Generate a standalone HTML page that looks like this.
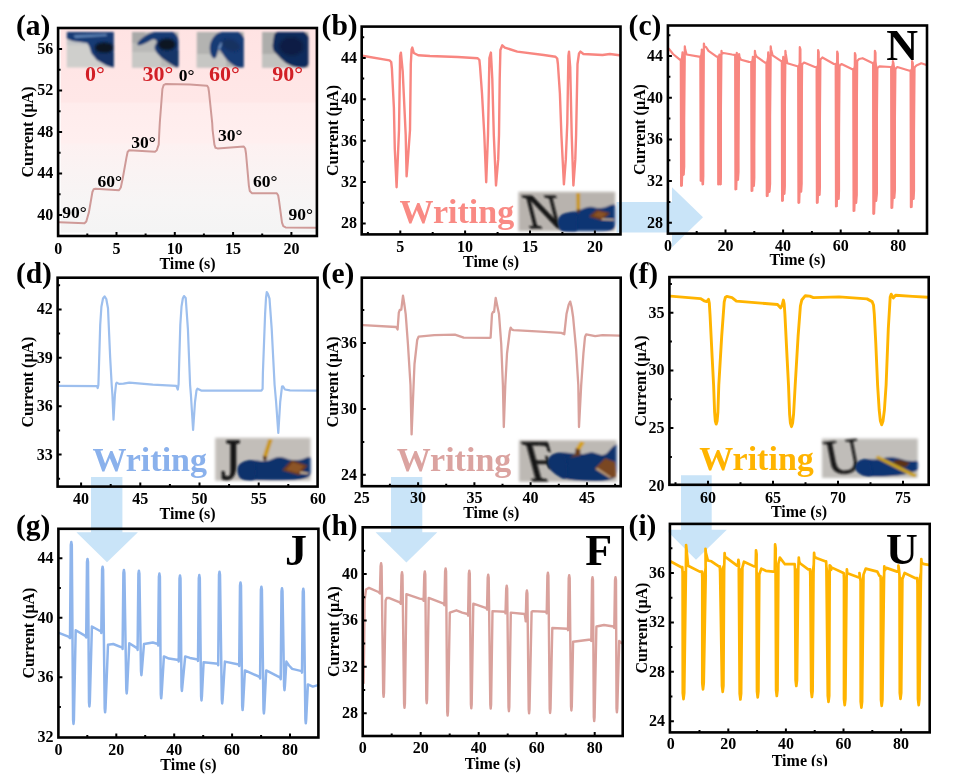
<!DOCTYPE html>
<html><head><meta charset="utf-8"><title>Figure</title>
<style>
html,body{margin:0;padding:0;background:#fff;}
body{width:955px;height:783px;overflow:hidden;font-family:"Liberation Serif",serif;}
svg{display:block;will-change:transform;filter:blur(0.4px);}
</style></head><body>
<svg width="955" height="783" viewBox="0 0 955 783">
<defs>
<linearGradient id="pinkbg" x1="0" y1="0" x2="0" y2="1">
<stop offset="0" stop-color="#ffe3e3"/><stop offset="0.36" stop-color="#ffe7e7"/><stop offset="0.37" stop-color="#ffecec"/>
<stop offset="0.56" stop-color="#ffefef"/><stop offset="0.57" stop-color="#fdf1f1"/><stop offset="0.70" stop-color="#faf3f3"/><stop offset="0.85" stop-color="#f7f5f5"/><stop offset="1" stop-color="#f4f4f4"/>
</linearGradient>
<filter id="soft" x="-10%" y="-10%" width="120%" height="120%"><feGaussianBlur stdDeviation="0.9"/></filter>
<filter id="soft2" x="-10%" y="-10%" width="120%" height="120%"><feGaussianBlur stdDeviation="0.85"/></filter>
<filter id="edge" x="-10%" y="-10%" width="120%" height="120%"><feGaussianBlur stdDeviation="1.6"/></filter>
</defs>
<rect width="955" height="783" fill="#fff"/>
<rect x="60.7" y="28.0" width="256.2" height="204.6" fill="url(#pinkbg)"/>
<g fill="#c9e4f8">
<path d="M616.5 202 H672 V187.3 L703 217.2 L672 247.3 V232.4 H616.5 Z"/>
<path d="M91 477 H122.4 V532.3 H137.9 L107 562.3 L76.4 532.3 H91 Z"/>
<path d="M391 477 H422.3 V532.3 H437.3 L406.4 562.6 L375.6 532.3 H391 Z"/>
<path d="M681 475.2 H711.7 V529.7 H726.8 L696 559.8 L668.4 532.3 V529.7 H681 Z"/>
</g>
<defs><clipPath id="cp1"><rect x="66.8" y="32.1" width="47.0" height="35.4"/></clipPath><mask id="mcp1" maskUnits="userSpaceOnUse" x="60.8" y="26.1" width="59.0" height="47.4"><rect x="67.6" y="32.9" width="45.4" height="33.8" fill="#fff" filter="url(#edge)"/></mask><clipPath id="cp2"><rect x="132.1" y="32.1" width="46.4" height="35.4"/></clipPath><mask id="mcp2" maskUnits="userSpaceOnUse" x="126.1" y="26.1" width="58.4" height="47.4"><rect x="132.9" y="32.9" width="44.8" height="33.8" fill="#fff" filter="url(#edge)"/></mask><clipPath id="cp3"><rect x="196.8" y="32.1" width="47.0" height="35.4"/></clipPath><mask id="mcp3" maskUnits="userSpaceOnUse" x="190.8" y="26.1" width="59.0" height="47.4"><rect x="197.6" y="32.9" width="45.4" height="33.8" fill="#fff" filter="url(#edge)"/></mask><clipPath id="cp4"><rect x="262.1" y="32.1" width="46.4" height="35.4"/></clipPath><mask id="mcp4" maskUnits="userSpaceOnUse" x="256.1" y="26.1" width="58.4" height="47.4"><rect x="262.9" y="32.9" width="44.8" height="33.8" fill="#fff" filter="url(#edge)"/></mask><clipPath id="cpb"><rect x="517.6" y="191.0" width="98.4" height="41.0"/></clipPath><mask id="mcpb" maskUnits="userSpaceOnUse" x="511.6" y="185.0" width="110.4" height="53.0"><rect x="518.4" y="191.8" width="96.8" height="39.4" fill="#fff" filter="url(#edge)"/></mask><clipPath id="cpd"><rect x="214.4" y="437.0" width="97.0" height="44.6"/></clipPath><mask id="mcpd" maskUnits="userSpaceOnUse" x="208.4" y="431.0" width="109.0" height="56.6"><rect x="215.2" y="437.8" width="95.4" height="43.0" fill="#fff" filter="url(#edge)"/></mask><clipPath id="cpe"><rect x="518.2" y="439.4" width="99.2" height="43.2"/></clipPath><mask id="mcpe" maskUnits="userSpaceOnUse" x="512.2" y="433.4" width="111.2" height="55.2"><rect x="519.0" y="440.2" width="97.6" height="41.6" fill="#fff" filter="url(#edge)"/></mask><clipPath id="cpf"><rect x="821.2" y="437.8" width="97.4" height="41.0"/></clipPath><mask id="mcpf" maskUnits="userSpaceOnUse" x="815.2" y="431.8" width="109.4" height="53.0"><rect x="822.0" y="438.6" width="95.8" height="39.4" fill="#fff" filter="url(#edge)"/></mask></defs>
<g filter="url(#soft2)"><g clip-path="url(#cp1)">
<rect x="66" y="31" width="49" height="38" fill="#cfcfcc"/>
<rect x="66" y="31" width="49" height="14" fill="#c2c4c6"/>
<path d="M65.4 31.4 L114.5 31.4 L114.5 68.2 L106.3 65.5 L96.8 60.0 L91.3 53.2 L89.3 46.4 L87.2 43.0 L72.3 41.0 L65.4 38.0 Z" fill="#143a75"/>
<path d="M73.6 35.3 L106.3 33.9 L107.0 36.1 L75.0 38.0 Z" fill="#6f95c4" opacity="0.8"/>
<ellipse filter="url(#soft)" cx="104.2" cy="47.8" rx="9.5" ry="5.6" fill="#0b1424"/>
<path d="M94.0 51.9 L113.8 53.2 L113.8 66.8 L104.9 64.1 L96.8 58.7 Z" fill="#12305f" opacity="0.7"/>
</g></g>
<g filter="url(#soft2)"><g clip-path="url(#cp2)">
<rect x="131" y="31" width="49" height="38" fill="#b9b9b7"/>
<rect x="131" y="52" width="30" height="17" fill="#c8c8c5"/>
<rect x="131" y="31" width="14" height="12" fill="#a9a9a8"/>
<path d="M179.8 49.8 Q179.8 30.1 167.5 30.8 Q155.3 31.4 150.5 32.9 Q145.8 34.4 141.0 38.9 Q136.2 43.4 137.6 44.8 Q139.0 46.1 143.0 44.2 Q147.1 42.3 150.5 40.4 Q153.9 38.5 155.8 40.1 Q157.7 41.7 155.8 44.0 Q153.9 46.4 154.9 49.5 Q156.0 52.5 159.7 55.9 Q163.5 59.4 168.2 62.4 Q173.0 65.5 176.4 67.5 Q179.8 69.6 179.8 49.8 Z" fill="#143a75"/>
<ellipse filter="url(#soft)" cx="166.9" cy="44.4" rx="9" ry="6" fill="#0b1424"/>
<path d="M158.0 50.5 L179.1 50.5 L179.1 67.5 L168.9 62.8 L160.7 57.3 Z" fill="#12305f" opacity="0.6"/>
</g></g>
<g filter="url(#soft2)"><g clip-path="url(#cp3)">
<rect x="196" y="31" width="49" height="38" fill="#b3b3b1"/>
<rect x="196" y="54" width="30" height="15" fill="#c6c6c3"/>
<path d="M245.8 49.5 Q245.8 30.1 232.5 30.8 Q219.3 31.4 215.9 34.5 Q212.5 37.6 210.9 41.7 Q209.3 45.7 209.9 50.5 Q210.4 55.3 212.3 57.3 Q214.2 59.4 215.6 57.8 Q217.0 56.2 217.4 52.7 Q217.9 49.1 219.3 49.8 Q220.6 50.5 222.3 53.6 Q224.0 56.6 227.1 60.0 Q230.2 63.4 234.2 65.8 Q238.3 68.2 242.1 68.5 Q245.8 68.9 245.8 49.5 Z" fill="#143a75"/>
<path d="M217.9 48.5 L220.6 42.3 L222.7 43.0 L219.7 49.8 Z" fill="#7fa0cc" opacity="0.85"/>
<ellipse filter="url(#soft)" cx="230.8" cy="45.1" rx="9.5" ry="5.5" fill="#12305f" opacity="0.9" transform="rotate(20 230.8 45.1)"/>
</g></g>
<g filter="url(#soft2)"><g clip-path="url(#cp4)">
<rect x="261" y="31" width="49" height="38" fill="#adadab"/>
<rect x="261" y="54" width="30" height="15" fill="#c2c2bf"/>
<path d="M311.2 48.8 Q311.2 28.7 293.1 29.4 Q275.1 30.1 274.2 34.8 Q273.3 39.6 272.7 44.5 Q272.1 49.4 274.6 52.1 Q277.1 54.9 281.2 58.9 Q285.3 63.0 289.7 65.1 Q294.1 67.1 302.6 68.0 Q311.2 68.9 311.2 48.8 Z" fill="#102c5b"/>
<ellipse filter="url(#soft)" cx="291.4" cy="46.4" rx="12" ry="9.5" fill="#0a1d42" opacity="0.85"/>
</g></g>
<g mask="url(#mcpb)"><g filter="url(#soft2)">
<rect x="516" y="189" width="102" height="45" fill="#b8b3ae"/>
<path d="M557.9 223.1 Q557.6 220.1 559.7 217.1 Q561.8 214.1 566.0 213.3 Q570.2 212.4 573.8 211.8 Q577.4 211.2 581.1 209.4 Q584.7 207.6 588.3 207.0 Q591.9 206.4 594.6 207.4 Q597.3 208.3 601.2 208.0 Q605.1 207.6 607.8 206.2 Q610.6 204.7 614.5 204.3 Q618.4 203.9 618.4 219.2 Q618.4 234.6 590.7 234.3 Q563.0 234.0 560.6 230.1 Q558.2 226.1 557.9 223.1 Z" fill="#0f3573"/>
<path d="M576.2 192.7 L580.1 192.7 L580.1 209.9 L576.5 209.9 Z" fill="#c9981c"/>
<path d="M576.6 209.5 L580.1 209.5 L579.2 212.7 L577.4 212.7 Z" fill="#5a3418"/>
<path d="M588.9 216.5 L596.9 209.8 L610.2 213.1 L601.8 220.4 Z" fill="#6b3b1c"/>
<path d="M593.1 215.6 L598.5 211.2 L606.9 213.5 L601.3 218.0 Z" fill="#8a5226"/>
<path d="M601.8 218.4 L613.6 218.9 L613.8 220.4 L601.8 220.1 Z" fill="#d8bc94"/>
</g></g>
<text transform="translate(528.8 228.0) skewX(14)" font-family="Liberation Serif, serif" font-size="50" fill="#141414" stroke="#141414" stroke-width="0.9" filter="url(#soft2)">N</text>
<g mask="url(#mcpb)"><g filter="url(#soft2)">
<path d="M557.9 223.1 Q557.6 220.1 559.7 217.2 Q561.8 214.3 566.0 213.5 Q570.2 212.7 572.9 212.3 Q575.6 211.9 576.5 216.0 Q577.4 220.1 577.4 227.4 Q577.4 234.6 570.2 234.3 Q563.0 234.0 560.6 230.1 Q558.2 226.1 557.9 223.1 Z" fill="#0f3573"/>
</g></g>
<g mask="url(#mcpd)"><g filter="url(#soft2)">
<rect x="212" y="435" width="102" height="49" fill="#c2beb9"/>
<path d="M237.9 471.5 Q237.3 466.7 240.4 464.0 Q243.5 461.3 248.4 460.6 Q253.2 459.9 257.4 460.6 Q261.6 461.3 265.2 461.1 Q268.8 460.8 272.4 458.9 Q276.1 457.0 279.7 457.0 Q283.3 457.0 286.3 458.5 Q289.3 460.1 295.3 460.1 Q301.3 460.1 304.3 458.5 Q307.4 457.0 311.0 456.7 Q314.6 456.5 314.6 468.8 Q314.6 481.2 279.7 481.2 Q244.7 481.2 241.6 478.8 Q238.5 476.4 237.9 471.5 Z" fill="#0e326c"/>
<path d="M268.5 438.7 L272.7 439.6 L267.1 457.2 L262.9 455.9 Z" fill="#c9981c"/>
<path d="M262.9 455.7 L267.3 457.0 L265.8 461.1 L263.0 460.1 Z" fill="#5a3418"/>
<path d="M282.1 470.3 L291.9 460.1 L307.6 465.6 L299.2 475.3 Z" fill="#6b3b1c"/>
<path d="M285.9 469.7 L292.9 462.3 L304.0 466.1 L297.7 472.9 Z" fill="#8d5428"/>
<path d="M300.1 471.5 L308.6 472.8 L308.3 474.3 L299.9 473.4 Z" fill="#d8bc94"/>
</g></g>
<text x="221.2" y="478.6" font-family="Liberation Serif, serif" font-size="57" fill="#141414" stroke="#141414" stroke-width="1.5" filter="url(#soft2)" textLength="19" lengthAdjust="spacingAndGlyphs">J</text>
<g mask="url(#mcpd)"><g filter="url(#soft2)">
<path d="M237.9 471.5 Q237.3 466.7 240.4 464.1 Q243.5 461.6 248.4 460.8 Q253.2 460.1 254.4 463.1 Q255.6 466.1 255.6 473.7 Q255.6 481.2 250.2 481.2 Q244.7 481.2 241.6 478.8 Q238.5 476.4 237.9 471.5 Z" fill="#0e326c"/>
</g></g>
<g mask="url(#mcpe)"><g filter="url(#soft2)">
<rect x="516" y="437" width="104" height="48" fill="#bdb9b4"/>
<path d="M547.7 463.7 Q547.1 460.7 549.6 457.4 Q552.1 454.1 557.0 453.1 Q561.8 452.2 567.2 452.8 Q572.6 453.5 577.4 454.1 Q582.3 454.8 587.1 453.2 Q591.9 451.7 594.9 452.9 Q597.9 454.1 601.5 454.9 Q605.1 455.8 608.1 451.9 Q611.2 448.1 613.6 446.1 Q616.0 444.2 618.4 443.7 Q620.8 443.2 620.8 463.1 Q620.8 483.0 594.3 481.8 Q567.8 480.6 561.8 477.7 Q555.8 474.8 552.0 470.8 Q548.3 466.7 547.7 463.7 Z" fill="#0e326c"/>
<path d="M580.4 441.1 L584.9 442.5 L580.1 450.0 L575.8 448.5 Z" fill="#d4a21e"/>
<path d="M575.6 448.3 L580.4 449.7 L580.4 455.5 L570.2 457.5 L575.0 454.1 Z" fill="#6a3d1c"/>
<path d="M594.9 468.5 L605.1 458.2 L615.0 462.0 L617.8 477.2 L610.0 477.9 Z" fill="#7a4622"/>
<path d="M595.7 469.3 L597.2 467.8 L611.4 477.2 L610.0 478.2 Z" fill="#d8bc94" opacity="0.8"/>
</g></g>
<text transform="translate(530.5 481.0) skewX(15) scale(1 1.1)" font-family="Liberation Serif, serif" font-size="53" fill="#141414" stroke="#141414" stroke-width="0.9" filter="url(#soft2)">F</text>
<g mask="url(#mcpe)"><g filter="url(#soft2)">
<path d="M547.7 463.7 Q547.1 460.7 549.6 457.5 Q552.1 454.3 557.0 453.4 Q561.8 452.4 564.2 455.7 Q566.6 458.9 567.2 469.7 Q567.8 480.6 561.8 477.7 Q555.8 474.8 552.0 470.8 Q548.3 466.7 547.7 463.7 Z" fill="#0e326c"/>
</g></g>
<g mask="url(#mcpf)"><g filter="url(#soft2)">
<rect x="819" y="435" width="102" height="46" fill="#c0bdb9"/>
<path d="M855.4 467.6 Q855.1 465.1 857.4 462.6 Q859.8 460.0 863.5 459.4 Q867.3 458.7 872.3 459.4 Q877.3 460.0 882.4 458.5 Q887.4 456.9 892.4 457.2 Q897.4 457.4 902.5 459.4 Q907.5 461.3 914.4 460.9 Q921.3 460.4 921.3 464.9 Q921.3 469.5 916.9 470.8 Q912.5 472.2 906.2 474.1 Q900.0 476.0 886.1 476.6 Q872.3 477.3 866.7 476.0 Q861.0 474.7 858.4 472.4 Q855.7 470.1 855.4 467.6 Z" fill="#0f3573"/>
<path d="M892.4 461.3 L900.0 459.4 L910.0 462.6 L905.6 467.2 L897.4 465.7 Z" fill="#5c3317"/>
<path d="M875.2 457.8 L878.0 455.4 L917.3 475.0 L914.5 477.8 Z" fill="#c9a01c"/>
</g></g>
<text transform="translate(828.0 475.0) rotate(-6) skewX(5)" font-family="Liberation Serif, serif" font-size="50" fill="#141414" stroke="#141414" stroke-width="0.4" filter="url(#soft2)">U</text>
<g mask="url(#mcpf)"><g filter="url(#soft2)">
<path d="M855.4 467.6 Q855.1 465.1 857.4 462.7 Q859.8 460.3 863.5 459.6 Q867.3 458.9 869.2 462.3 Q871.1 465.7 871.7 471.5 Q872.3 477.3 866.7 476.0 Q861.0 474.7 858.4 472.4 Q855.7 470.1 855.4 467.6 Z" fill="#0f3573"/>
</g></g>
<path d="M59.5 222.3 L84.5 223.3 L86.3 221.5 L88.9 212.3 L92.4 192.0 L93.6 189.3 L95.5 188.8 L119.0 190.2 L120.8 187.5 L122.7 178.5 L126.4 157.9 L127.6 152.0 L129.2 150.3 L155.0 151.7 L156.8 150.2 L158.7 144.7 L159.4 130.0 L159.8 122.8 L162.4 89.0 L163.6 85.2 L166.0 83.9 L190.0 84.6 L207.0 85.7 L208.3 87.5 L209.0 92.0 L212.2 122.8 L212.6 130.0 L214.4 144.7 L215.5 147.8 L217.5 148.4 L243.8 146.5 L245.2 148.5 L246.0 153.5 L248.9 185.8 L249.8 191.0 L251.8 193.2 L276.8 193.2 L278.2 195.5 L279.0 200.5 L282.0 222.6 L283.3 226.2 L285.6 227.4 L315.7 227.7" fill="none" stroke="#cf9a98" stroke-width="2.0" stroke-linejoin="round" stroke-linecap="round" />
<path d="M362.3 55.7 L389.5 60.4 L391.2 62.0 L391.9 68.5 L393.9 108.0 L394.8 149.0 L396.6 187.3 L399.0 130.0 L400.1 56.0 L400.9 52.6 L402.7 71.4 L405.7 135.0 L406.6 176.3 L407.9 159.4 L410.0 130.0 L410.8 64.0 L411.6 49.5 L412.3 47.6 L413.8 53.0 L418.2 55.3 L429.9 56.0 L457.8 57.0 L477.7 58.2 L479.4 60.0 L480.0 66.0 L482.0 93.5 L484.3 135.0 L486.2 182.2 L488.0 135.0 L489.4 58.0 L490.9 52.6 L492.3 78.8 L493.8 135.0 L496.0 185.5 L498.2 159.4 L499.0 135.0 L499.7 78.8 L500.4 50.0 L502.3 45.3 L504.8 47.6 L517.3 51.6 L543.8 55.0 L555.5 56.7 L557.2 58.5 L557.9 64.0 L559.9 93.5 L561.4 135.0 L563.9 184.4 L565.8 159.4 L567.3 122.8 L568.4 56.0 L569.0 51.6 L570.2 67.0 L571.7 135.0 L573.4 185.5 L575.3 159.4 L576.1 135.0 L577.5 64.0 L579.0 53.5 L580.5 51.6 L583.4 54.0 L602.5 55.0 L609.9 54.0 L619.4 55.3" fill="none" stroke="#f88680" stroke-width="2.4" stroke-linejoin="round" stroke-linecap="round" />
<path d="M680.8 60.7 L681.1 185.8 L682.3 185.8 L682.8 171.8 L683.1 174.8 L684.1 174.8 L684.7 166.8 L684.7 56.5 L682.5 53.4 Z" fill="#f88680" stroke="#f88680" stroke-width="1.2" stroke-linejoin="round"/>
<path d="M700.4 57.7 L700.7 180.7 L701.9 180.7 L702.1 177.7 L702.5 184.4 L703.5 184.4 L703.8 176.4 L703.8 49.0 L701.8 50.5 Z" fill="#f88680" stroke="#f88680" stroke-width="1.2" stroke-linejoin="round"/>
<path d="M718.0 57.7 L718.3 184.4 L719.5 184.4 L719.7 181.4 L720.1 184.4 L721.1 184.4 L721.4 176.4 L721.4 55.0 L719.4 55.7 Z" fill="#f88680" stroke="#f88680" stroke-width="1.2" stroke-linejoin="round"/>
<path d="M735.2 55.8 L735.5 189.5 L736.7 189.5 L737.1 177.0 L737.5 180.0 L738.5 180.0 L739.0 172.0 L739.0 61.7 L736.8 53.8 Z" fill="#f88680" stroke="#f88680" stroke-width="1.2" stroke-linejoin="round"/>
<path d="M751.3 63.0 L751.6 191.0 L752.8 191.0 L753.0 183.0 L753.4 186.0 L754.4 186.0 L754.8 178.0 L754.8 58.7 L752.8 57.9 Z" fill="#f88680" stroke="#f88680" stroke-width="1.2" stroke-linejoin="round"/>
<path d="M766.5 63.6 L766.8 196.1 L768.0 196.1 L768.5 189.0 L768.9 192.0 L769.9 192.0 L770.6 184.0 L770.6 57.3 L768.2 53.4 Z" fill="#f88680" stroke="#f88680" stroke-width="1.2" stroke-linejoin="round"/>
<path d="M781.8 62.1 L782.1 200.8 L783.3 200.8 L783.5 191.0 L783.9 194.0 L784.9 194.0 L785.3 186.0 L785.3 65.3 L783.2 57.9 Z" fill="#f88680" stroke="#f88680" stroke-width="1.2" stroke-linejoin="round"/>
<path d="M798.2 67.3 L798.5 202.8 L799.7 202.8 L800.2 188.7 L800.6 191.7 L801.6 191.7 L802.1 183.7 L802.1 64.6 L799.8 62.3 Z" fill="#f88680" stroke="#f88680" stroke-width="1.2" stroke-linejoin="round"/>
<path d="M816.6 68.0 L816.9 202.8 L818.1 202.8 L818.5 192.0 L818.9 195.0 L819.9 195.0 L820.4 187.0 L820.4 59.5 L818.1 63.0 Z" fill="#f88680" stroke="#f88680" stroke-width="1.2" stroke-linejoin="round"/>
<path d="M835.7 65.0 L836.0 206.5 L837.2 206.5 L837.6 196.0 L838.0 199.0 L839.0 199.0 L839.5 191.0 L839.5 66.0 L837.2 60.0 Z" fill="#f88680" stroke="#f88680" stroke-width="1.2" stroke-linejoin="round"/>
<path d="M853.3 70.2 L853.6 210.9 L854.8 210.9 L855.2 200.0 L855.6 203.0 L856.6 203.0 L857.2 195.0 L857.2 61.0 L854.9 65.2 Z" fill="#f88680" stroke="#f88680" stroke-width="1.2" stroke-linejoin="round"/>
<path d="M873.1 64.3 L873.4 213.8 L874.6 213.8 L875.2 198.0 L875.6 201.0 L876.6 201.0 L877.4 193.0 L877.4 68.3 L874.9 59.3 Z" fill="#f88680" stroke="#f88680" stroke-width="1.2" stroke-linejoin="round"/>
<path d="M891.2 68.0 L891.5 207.9 L892.7 207.9 L893.3 195.0 L893.7 198.0 L894.7 198.0 L895.4 190.0 L895.4 69.0 L892.9 63.0 Z" fill="#f88680" stroke="#f88680" stroke-width="1.2" stroke-linejoin="round"/>
<path d="M910.6 71.7 L910.9 207.2 L912.1 207.2 L912.5 196.0 L912.9 199.0 L913.9 199.0 L914.5 191.0 L914.5 67.5 L912.1 66.7 Z" fill="#f88680" stroke="#f88680" stroke-width="1.2" stroke-linejoin="round"/>
<path d="M668.8 48.6 L673.0 54.0 L679.8 59.7 L680.8 59.7 L681.1 185.8 L682.5 52.4 L683.2 174.8 L684.7 57.5 L684.8 46.4 L685.2 49.4 L686.6 54.5 L698.9 56.7 L700.4 56.7 L700.7 180.7 L701.8 49.5 L702.6 184.4 L703.8 50.0 L703.9 43.5 L704.3 46.5 L706.0 47.0 L708.5 50.9 L716.6 56.7 L718.0 56.7 L718.3 184.4 L719.4 54.7 L720.2 184.4 L721.4 56.0 L721.5 50.9 L721.9 53.9 L723.4 53.0 L732.0 54.5 L734.2 54.8 L735.2 54.8 L735.5 189.5 L736.8 52.8 L737.6 180.0 L739.0 62.7 L739.1 54.0 L739.5 57.0 L741.0 59.7 L748.9 61.9 L750.3 62.0 L751.3 62.0 L751.6 191.0 L752.8 56.9 L753.5 186.0 L754.8 59.7 L754.9 50.9 L755.3 53.9 L756.6 56.7 L765.0 62.6 L766.5 62.6 L766.8 196.1 L768.2 52.4 L769.0 192.0 L770.6 58.3 L770.7 46.4 L771.1 49.4 L772.6 55.3 L781.2 61.1 L781.8 61.1 L782.1 200.8 L783.2 56.9 L784.0 194.0 L785.3 66.3 L785.4 50.9 L785.8 53.9 L787.3 63.3 L797.4 66.3 L798.2 66.3 L798.5 202.8 L799.8 47.2 L800.4 49.2 L801.0 191.7 L802.1 64.6 L804.0 62.6 L814.8 67.0 L816.6 67.0 L816.9 202.8 L818.1 50.1 L818.7 52.1 L819.3 195.0 L820.4 59.5 L822.4 57.5 L833.9 64.0 L835.7 64.0 L836.0 206.5 L837.2 51.6 L837.8 53.6 L838.4 199.0 L839.5 66.0 L841.5 64.0 L852.3 69.2 L853.3 69.2 L853.6 210.9 L854.9 53.0 L855.5 55.0 L856.0 203.0 L857.2 61.0 L859.1 59.0 L862.6 58.2 L872.9 63.3 L873.1 63.3 L873.4 213.8 L874.9 50.9 L875.5 52.9 L876.0 201.0 L877.4 68.3 L879.5 66.3 L890.5 67.0 L891.2 67.0 L891.5 207.9 L892.9 61.2 L893.5 63.2 L894.1 198.0 L895.4 69.0 L897.3 67.0 L909.6 70.7 L910.6 70.7 L910.9 207.2 L912.1 61.1 L912.8 63.1 L913.3 199.0 L914.5 67.5 L916.4 65.5 L921.3 63.3 L925.8 64.8" fill="none" stroke="#f88680" stroke-width="2.2" stroke-linejoin="round" stroke-linecap="round" />
<path d="M58.8 385.9 L97.0 386.2 L97.7 388.0 L98.4 385.0 L99.2 358.1 L100.2 325.0 L101.4 306.7 L103.0 298.5 L104.6 296.4 L106.3 299.0 L108.0 308.2 L110.2 358.1 L111.7 385.0 L112.4 394.7 L113.5 419.7 L114.9 394.7 L116.1 383.7 L116.8 382.6 L119.0 383.9 L123.5 383.7 L129.3 382.6 L152.8 384.7 L176.3 385.9 L177.8 389.5 L178.6 384.0 L179.3 358.1 L180.3 325.0 L181.5 306.7 L182.8 298.5 L184.0 296.1 L185.7 297.9 L187.9 328.8 L190.1 385.0 L190.9 394.7 L193.1 430.0 L195.0 402.0 L196.5 390.3 L197.5 388.7 L201.2 390.6 L261.4 390.6 L262.6 388.8 L262.9 372.8 L265.1 314.1 L266.0 298.0 L266.8 292.0 L268.0 294.0 L269.5 298.6 L271.7 328.8 L274.6 385.0 L276.1 402.0 L278.3 432.9 L280.2 402.0 L282.0 386.6 L283.0 386.3 L284.9 389.5 L290.0 390.4 L316.5 390.6" fill="none" stroke="#9dbfee" stroke-width="2.2" stroke-linejoin="round" stroke-linecap="round" />
<path d="M363.1 325.1 L396.1 327.0 L397.6 329.5 L398.8 312.6 L399.8 310.0 L401.3 309.7 L403.0 295.7 L404.3 304.0 L405.7 314.1 L407.9 343.5 L410.5 385.0 L411.6 434.4 L413.8 380.0 L414.5 364.0 L417.2 340.0 L418.6 336.6 L434.3 335.1 L454.9 334.6 L463.7 337.6 L489.4 337.9 L490.6 337.7 L492.0 314.1 L493.0 312.0 L494.1 311.9 L495.7 297.9 L497.3 306.0 L499.0 314.1 L501.2 343.5 L502.9 385.0 L503.8 427.0 L505.3 385.0 L507.0 353.7 L509.8 331.0 L510.7 327.6 L512.0 329.6 L513.6 330.2 L536.4 331.4 L561.4 332.9 L564.3 334.2 L566.5 314.1 L568.6 305.0 L570.2 301.6 L571.6 307.0 L573.1 317.0 L576.1 349.3 L578.3 385.0 L579.0 427.0 L581.2 385.0 L583.4 353.7 L585.0 337.0 L586.2 334.3 L595.2 336.1 L602.5 335.1 L619.4 335.7" fill="none" stroke="#d9a19c" stroke-width="2.3" stroke-linejoin="round" stroke-linecap="round" />
<path d="M670.3 296.1 L700.4 298.6 L704.1 300.8 L706.7 301.6 L708.5 299.4 L709.3 303.0 L710.0 314.1 L712.2 358.1 L713.6 385.0 L714.6 412.0 L715.3 421.0 L716.2 424.1 L717.1 421.0 L717.9 412.0 L718.8 385.0 L721.7 336.1 L724.2 302.0 L725.3 297.5 L726.8 296.4 L732.0 297.6 L736.4 301.1 L777.5 304.5 L780.5 307.9 L782.2 305.0 L783.4 300.1 L784.2 304.0 L784.9 314.1 L787.1 358.1 L788.5 385.0 L789.6 414.0 L790.4 423.0 L791.5 426.7 L792.6 423.0 L793.6 414.0 L795.2 385.0 L798.1 336.1 L800.4 306.0 L801.8 300.0 L805.3 295.7 L809.7 296.1 L813.4 297.6 L839.1 296.9 L867.0 298.9 L872.1 301.6 L873.5 305.0 L874.3 314.1 L875.8 343.5 L877.6 385.0 L879.2 410.0 L880.4 421.0 L881.7 424.8 L883.0 421.0 L884.4 410.0 L886.1 385.0 L888.3 328.8 L890.2 297.0 L891.2 294.2 L893.4 297.9 L895.6 295.3 L912.5 296.4 L928.0 297.2" fill="none" stroke="#ffb400" stroke-width="2.9" stroke-linejoin="round" stroke-linecap="round" />
<path d="M59.5 633.1 L68.4 636.6 L70.0 638.1 L70.8 545.0 L71.3 542.0 L71.8 545.0 L73.1 720.0 L73.5 724.0 L73.9 720.0 L75.7 630.2 L85.3 635.9 L86.2 637.4 L87.0 561.9 L87.5 558.9 L88.0 561.9 L89.0 702.4 L89.4 706.4 L89.8 702.4 L91.9 626.5 L101.0 631.5 L101.3 633.0 L102.1 569.7 L102.6 566.7 L103.1 569.7 L104.7 708.3 L105.1 712.3 L105.5 708.3 L108.0 644.7 L113.2 644.0 L122.3 647.6 L122.6 649.1 L123.4 573.0 L123.9 570.0 L124.4 573.0 L126.3 689.5 L126.7 693.5 L127.1 689.5 L129.3 643.2 L137.4 648.4 L137.6 649.9 L138.4 573.7 L138.9 570.7 L139.4 573.7 L141.0 671.2 L141.4 675.2 L141.8 671.2 L144.0 644.0 L152.8 642.5 L158.0 644.0 L158.1 645.5 L158.9 576.6 L159.4 573.6 L159.9 576.6 L160.8 694.3 L161.2 698.3 L161.6 694.3 L163.9 656.4 L169.0 658.6 L178.4 660.1 L178.7 661.6 L179.5 578.5 L180.0 575.5 L180.5 578.5 L181.5 687.0 L181.9 691.0 L182.3 687.0 L185.2 656.4 L190.0 657.9 L197.6 659.4 L198.0 660.9 L198.8 578.1 L199.3 575.1 L199.8 578.1 L201.1 696.5 L201.5 700.5 L201.9 696.5 L203.6 662.3 L218.0 663.8 L218.2 665.3 L219.0 574.7 L219.5 571.7 L220.0 574.7 L221.8 699.5 L222.2 703.5 L222.6 699.5 L224.9 661.6 L238.8 664.5 L239.2 666.0 L240.0 585.4 L240.5 582.4 L241.0 585.4 L242.2 706.1 L242.6 710.1 L243.0 706.1 L244.9 670.4 L259.8 677.0 L260.1 678.5 L260.9 589.8 L261.4 586.8 L261.9 589.8 L263.5 709.4 L263.9 713.4 L264.3 709.4 L266.2 670.4 L280.3 677.7 L280.7 679.2 L281.5 591.3 L282.0 588.3 L282.5 591.3 L284.1 686.2 L284.5 690.2 L284.9 686.2 L286.4 661.6 L289.0 665.5 L292.2 668.9 L301.6 671.1 L302.0 672.6 L302.8 591.8 L303.3 588.8 L303.8 591.8 L305.4 719.3 L305.8 723.3 L306.2 719.3 L307.9 684.4 L312.8 686.6 L318.0 685.1" fill="none" stroke="#8fb5ec" stroke-width="2.5" stroke-linejoin="round" stroke-linecap="round" />
<path d="M363.6 683.0 L364.2 640.0 L364.6 600.0 L366.0 589.5 L369.0 587.9 L378.5 592.0 L379.9 593.5 L380.6 566.3 L381.1 563.3 L381.6 566.3 L383.2 692.8 L383.6 696.8 L384.0 692.8 L385.6 600.5 L386.8 598.0 L388.8 597.9 L399.8 602.3 L400.8 603.8 L401.5 575.2 L402.0 572.2 L402.5 575.2 L404.1 703.9 L404.5 707.9 L404.9 703.9 L406.4 594.2 L419.6 598.6 L423.0 599.3 L423.6 600.8 L424.3 574.4 L424.8 571.4 L425.3 574.4 L426.3 699.2 L426.7 703.2 L427.1 699.2 L428.7 597.9 L443.7 603.7 L444.4 605.2 L445.1 571.5 L445.6 568.5 L446.1 571.5 L447.2 711.6 L447.6 715.6 L448.0 711.6 L449.8 612.6 L456.4 610.3 L462.2 612.6 L467.6 614.0 L468.1 615.5 L468.8 573.7 L469.3 570.7 L469.8 573.7 L470.9 704.3 L471.3 708.3 L471.7 704.3 L473.3 603.7 L486.4 608.1 L487.0 609.6 L487.7 577.8 L488.2 574.8 L488.7 577.8 L490.3 704.6 L490.7 708.6 L491.1 704.6 L492.5 611.1 L505.0 611.8 L505.5 613.3 L506.2 588.8 L506.7 585.8 L507.2 588.8 L508.5 707.2 L508.9 711.2 L509.3 707.2 L510.8 612.6 L524.7 614.0 L525.6 619.9 L525.7 621.4 L526.4 593.5 L526.9 590.5 L527.4 593.5 L528.7 709.4 L529.1 713.4 L529.5 709.4 L531.6 612.0 L532.6 611.1 L546.2 611.8 L546.7 613.3 L547.4 575.6 L547.9 572.6 L548.4 575.6 L549.7 709.0 L550.1 713.0 L550.5 709.0 L552.3 628.0 L567.5 628.7 L568.0 630.2 L568.7 578.1 L569.2 575.1 L569.7 578.1 L571.0 706.5 L571.4 710.5 L571.8 706.5 L573.1 641.8 L590.6 639.5 L591.3 641.0 L592.0 580.3 L592.5 577.3 L593.0 580.3 L593.8 717.1 L594.2 721.1 L594.6 717.1 L596.4 626.5 L604.0 625.0 L613.6 626.5 L614.3 628.0 L615.0 580.3 L615.5 577.3 L616.0 580.3 L616.5 708.3 L616.9 712.3 L617.3 708.3 L619.2 641.0 L621.6 643.2" fill="none" stroke="#d9a19c" stroke-width="2.4" stroke-linejoin="round" stroke-linecap="round" />
<path d="M682.6 571.2 L682.8 693.2 L683.5 699.2 L684.2 693.2 L685.9 570.7 Z" fill="#ffb400"/>
<path d="M702.3 575.6 L702.3 683.3 L703.0 689.3 L703.7 683.3 L705.7 565.5 Z" fill="#ffb400"/>
<path d="M720.1 570.4 L722.0 685.8 L722.7 691.8 L723.4 685.8 L724.1 562.6 Z" fill="#ffb400"/>
<path d="M738.4 569.7 L739.7 693.5 L740.4 699.5 L741.1 693.5 L742.4 566.7 Z" fill="#ffb400"/>
<path d="M756.1 570.4 L757.0 691.3 L757.7 697.3 L758.4 691.3 L759.3 573.6 Z" fill="#ffb400"/>
<path d="M775.2 575.6 L776.1 690.0 L776.8 696.0 L777.5 690.0 L778.4 562.6 Z" fill="#ffb400"/>
<path d="M795.0 568.2 L795.6 680.0 L796.3 686.0 L797.0 680.0 L798.3 568.5 Z" fill="#ffb400"/>
<path d="M810.3 573.4 L811.2 691.0 L811.9 697.0 L812.6 691.0 L813.5 563.3 Z" fill="#ffb400"/>
<path d="M826.4 565.3 L827.8 695.8 L828.5 701.8 L829.2 695.8 L829.7 572.6 Z" fill="#ffb400"/>
<path d="M844.0 577.0 L844.0 699.1 L844.7 705.1 L845.4 699.1 L846.6 578.8 Z" fill="#ffb400"/>
<path d="M860.2 581.4 L860.7 701.6 L861.4 707.6 L862.1 701.6 L863.5 573.6 Z" fill="#ffb400"/>
<path d="M880.8 580.0 L881.0 699.8 L881.7 705.8 L882.4 699.8 L884.0 572.9 Z" fill="#ffb400"/>
<path d="M899.1 575.6 L899.8 692.9 L900.5 698.9 L901.2 692.9 L902.4 578.0 Z" fill="#ffb400"/>
<path d="M917.5 582.2 L918.0 699.1 L918.7 705.1 L919.4 699.1 L920.8 569.2 Z" fill="#ffb400"/>
<path d="M670.3 561.3 L681.3 567.2 L682.3 567.2 L682.6 573.2 L682.8 693.2 L683.5 699.2 L684.2 693.2 L685.9 571.2 L686.1 545.1 L686.5 549.1 L688.1 565.7 L699.7 571.6 L702.0 571.6 L702.3 577.6 L702.3 683.3 L703.0 689.3 L703.7 683.3 L705.7 575.6 L705.5 548.8 L705.9 552.8 L707.9 560.5 L711.4 561.3 L718.8 566.4 L719.8 566.4 L720.1 572.4 L722.0 685.8 L722.7 691.8 L723.4 685.8 L724.1 570.4 L724.6 553.2 L725.0 557.2 L726.3 557.6 L737.1 565.7 L738.0 565.7 L738.4 559.8 L739.0 563.8 L738.8 569.7 L739.7 693.5 L740.4 699.5 L741.1 693.5 L742.4 567.7 L744.0 561.7 L754.0 566.4 L755.7 566.4 L756.0 550.3 L756.6 554.3 L756.5 570.4 L757.0 691.3 L757.7 697.3 L758.4 691.3 L759.3 574.6 L761.3 568.6 L765.8 570.8 L773.1 571.6 L774.8 571.6 L775.1 544.4 L775.7 548.4 L775.6 575.6 L776.1 690.0 L776.8 696.0 L777.5 690.0 L778.4 563.6 L779.9 557.6 L784.9 564.2 L793.0 564.2 L794.7 564.2 L795.0 570.2 L795.6 680.0 L796.3 686.0 L797.0 680.0 L798.3 568.2 L798.8 557.6 L799.2 561.6 L800.3 563.5 L808.2 569.4 L810.0 569.4 L810.3 575.4 L811.2 691.0 L811.9 697.0 L812.6 691.0 L813.5 573.4 L814.1 552.9 L814.5 556.9 L817.0 558.3 L825.1 561.3 L826.1 561.3 L826.4 567.3 L827.8 695.8 L828.5 701.8 L829.2 695.8 L829.7 565.3 L830.6 566.0 L831.0 570.0 L831.9 567.6 L843.5 573.0 L843.7 573.0 L844.0 579.0 L844.0 699.1 L844.7 705.1 L845.4 699.1 L846.6 577.0 L846.9 569.4 L847.3 573.4 L848.8 573.8 L858.9 577.4 L859.8 577.4 L859.4 573.0 L860.0 577.0 L860.6 581.4 L860.7 701.6 L861.4 707.6 L862.1 701.6 L863.5 574.6 L865.7 568.6 L877.3 571.6 L879.5 576.0 L880.5 576.0 L880.8 582.0 L881.0 699.8 L881.7 705.8 L882.4 699.8 L884.0 580.0 L884.3 566.4 L884.7 570.4 L886.3 567.9 L897.1 571.6 L898.7 571.6 L898.4 565.7 L899.0 569.7 L899.5 575.6 L899.8 692.9 L900.5 698.9 L901.2 692.9 L902.4 579.0 L904.6 573.0 L915.5 578.2 L917.2 578.2 L917.5 584.2 L918.0 699.1 L918.7 705.1 L919.4 699.1 L920.8 582.2 L921.3 559.1 L921.7 563.1 L924.3 564.2 L928.7 564.9" fill="none" stroke="#ffb400" stroke-width="2.7" stroke-linejoin="round" stroke-linecap="round" />
<text x="399.6" y="223.3" font-size="34" text-anchor="start" fill="#f98a84" font-family="Liberation Serif, serif" font-weight="bold" >Writing</text>
<text x="92.4" y="471.1" font-size="34" text-anchor="start" fill="#8ab1ec" font-family="Liberation Serif, serif" font-weight="bold" >Writing</text>
<text x="396.7" y="470.8" font-size="34" text-anchor="start" fill="#dba3a0" font-family="Liberation Serif, serif" font-weight="bold" >Writing</text>
<text x="699.2" y="469.9" font-size="34" text-anchor="start" fill="#ffb400" font-family="Liberation Serif, serif" font-weight="bold" >Writing</text>
<rect x="58.1" y="28.0" width="258.8" height="208.0" fill="none" stroke="#000" stroke-width="2.6"/>
<text x="58.2" y="253.6" font-size="16" text-anchor="middle" fill="#000" font-family="Liberation Serif, serif" font-weight="bold" >0</text>
<text x="116.5" y="253.6" font-size="16" text-anchor="middle" fill="#000" font-family="Liberation Serif, serif" font-weight="bold" >5</text>
<text x="174.8" y="253.6" font-size="16" text-anchor="middle" fill="#000" font-family="Liberation Serif, serif" font-weight="bold" >10</text>
<text x="233.1" y="253.6" font-size="16" text-anchor="middle" fill="#000" font-family="Liberation Serif, serif" font-weight="bold" >15</text>
<text x="291.4" y="253.6" font-size="16" text-anchor="middle" fill="#000" font-family="Liberation Serif, serif" font-weight="bold" >20</text>
<text x="53.3" y="219.9" font-size="16" text-anchor="end" fill="#000" font-family="Liberation Serif, serif" font-weight="bold" >40</text>
<text x="53.3" y="178.4" font-size="16" text-anchor="end" fill="#000" font-family="Liberation Serif, serif" font-weight="bold" >44</text>
<text x="53.3" y="136.9" font-size="16" text-anchor="end" fill="#000" font-family="Liberation Serif, serif" font-weight="bold" >48</text>
<text x="53.3" y="95.4" font-size="16" text-anchor="end" fill="#000" font-family="Liberation Serif, serif" font-weight="bold" >52</text>
<text x="53.3" y="53.9" font-size="16" text-anchor="end" fill="#000" font-family="Liberation Serif, serif" font-weight="bold" >56</text>
<path d="M116.5 236.0 v-4.0 M174.8 236.0 v-4.0 M233.1 236.0 v-4.0 M291.4 236.0 v-4.0 M87.3 236.0 v-2.5 M145.6 236.0 v-2.5 M203.9 236.0 v-2.5 M262.2 236.0 v-2.5 M58.1 215.0 h4.0 M58.1 173.5 h4.0 M58.1 132.0 h4.0 M58.1 90.5 h4.0 M58.1 49.0 h4.0 M58.1 194.2 h2.5 M58.1 152.8 h2.5 M58.1 111.2 h2.5 M58.1 69.8 h2.5" stroke="#000" stroke-width="2" fill="none"/>
<text x="187.5" y="269.2" font-size="16" text-anchor="middle" fill="#000" font-family="Liberation Serif, serif" font-weight="bold" >Time (s)</text>
<text transform="translate(33.3 132.0) rotate(-90)" font-size="16" text-anchor="middle" font-family="Liberation Serif, serif" font-weight="bold">Current (μA)</text>
<text x="15.9" y="35.3" font-size="29.5" text-anchor="start" fill="#000" font-family="Liberation Serif, serif" font-weight="bold" >(a)</text>
<rect x="361.7" y="26.6" width="258.8" height="207.8" fill="none" stroke="#000" stroke-width="2.6"/>
<text x="400.3" y="251.8" font-size="16" text-anchor="middle" fill="#000" font-family="Liberation Serif, serif" font-weight="bold" >5</text>
<text x="465.1" y="251.8" font-size="16" text-anchor="middle" fill="#000" font-family="Liberation Serif, serif" font-weight="bold" >10</text>
<text x="530.0" y="251.8" font-size="16" text-anchor="middle" fill="#000" font-family="Liberation Serif, serif" font-weight="bold" >15</text>
<text x="594.9" y="251.8" font-size="16" text-anchor="middle" fill="#000" font-family="Liberation Serif, serif" font-weight="bold" >20</text>
<text x="356.9" y="228.4" font-size="16" text-anchor="end" fill="#000" font-family="Liberation Serif, serif" font-weight="bold" >28</text>
<text x="356.9" y="187.0" font-size="16" text-anchor="end" fill="#000" font-family="Liberation Serif, serif" font-weight="bold" >32</text>
<text x="356.9" y="145.6" font-size="16" text-anchor="end" fill="#000" font-family="Liberation Serif, serif" font-weight="bold" >36</text>
<text x="356.9" y="104.2" font-size="16" text-anchor="end" fill="#000" font-family="Liberation Serif, serif" font-weight="bold" >40</text>
<text x="356.9" y="62.8" font-size="16" text-anchor="end" fill="#000" font-family="Liberation Serif, serif" font-weight="bold" >44</text>
<path d="M400.3 234.4 v-4.0 M465.1 234.4 v-4.0 M530.0 234.4 v-4.0 M594.9 234.4 v-4.0 M367.9 234.4 v-2.5 M432.7 234.4 v-2.5 M497.6 234.4 v-2.5 M562.4 234.4 v-2.5 M361.7 223.5 h4.0 M361.7 182.1 h4.0 M361.7 140.7 h4.0 M361.7 99.3 h4.0 M361.7 57.9 h4.0 M361.7 202.8 h2.5 M361.7 161.4 h2.5 M361.7 120.0 h2.5 M361.7 78.6 h2.5 M361.7 37.2 h2.5" stroke="#000" stroke-width="2" fill="none"/>
<text x="491.1" y="267.2" font-size="16" text-anchor="middle" fill="#000" font-family="Liberation Serif, serif" font-weight="bold" >Time (s)</text>
<text transform="translate(338.4 130.5) rotate(-90)" font-size="16" text-anchor="middle" font-family="Liberation Serif, serif" font-weight="bold">Current (μA)</text>
<text x="321.6" y="35.3" font-size="29.5" text-anchor="start" fill="#000" font-family="Liberation Serif, serif" font-weight="bold" >(b)</text>
<rect x="667.9" y="25.5" width="259.1" height="208.1" fill="none" stroke="#000" stroke-width="2.6"/>
<text x="667.9" y="250.7" font-size="16" text-anchor="middle" fill="#000" font-family="Liberation Serif, serif" font-weight="bold" >0</text>
<text x="725.5" y="250.7" font-size="16" text-anchor="middle" fill="#000" font-family="Liberation Serif, serif" font-weight="bold" >20</text>
<text x="783.1" y="250.7" font-size="16" text-anchor="middle" fill="#000" font-family="Liberation Serif, serif" font-weight="bold" >40</text>
<text x="840.7" y="250.7" font-size="16" text-anchor="middle" fill="#000" font-family="Liberation Serif, serif" font-weight="bold" >60</text>
<text x="898.3" y="250.7" font-size="16" text-anchor="middle" fill="#000" font-family="Liberation Serif, serif" font-weight="bold" >80</text>
<text x="663.1" y="227.7" font-size="16" text-anchor="end" fill="#000" font-family="Liberation Serif, serif" font-weight="bold" >28</text>
<text x="663.1" y="186.0" font-size="16" text-anchor="end" fill="#000" font-family="Liberation Serif, serif" font-weight="bold" >32</text>
<text x="663.1" y="144.3" font-size="16" text-anchor="end" fill="#000" font-family="Liberation Serif, serif" font-weight="bold" >36</text>
<text x="663.1" y="102.6" font-size="16" text-anchor="end" fill="#000" font-family="Liberation Serif, serif" font-weight="bold" >40</text>
<text x="663.1" y="60.9" font-size="16" text-anchor="end" fill="#000" font-family="Liberation Serif, serif" font-weight="bold" >44</text>
<path d="M725.5 233.6 v-4.0 M783.1 233.6 v-4.0 M840.7 233.6 v-4.0 M898.3 233.6 v-4.0 M696.7 233.6 v-2.5 M754.3 233.6 v-2.5 M811.9 233.6 v-2.5 M869.5 233.6 v-2.5 M667.9 222.8 h4.0 M667.9 181.1 h4.0 M667.9 139.4 h4.0 M667.9 97.7 h4.0 M667.9 56.0 h4.0 M667.9 202.0 h2.5 M667.9 160.2 h2.5 M667.9 118.6 h2.5 M667.9 76.8 h2.5 M667.9 35.2 h2.5" stroke="#000" stroke-width="2" fill="none"/>
<text x="797.5" y="265.4" font-size="16" text-anchor="middle" fill="#000" font-family="Liberation Serif, serif" font-weight="bold" >Time (s)</text>
<text transform="translate(644.6 129.6) rotate(-90)" font-size="16" text-anchor="middle" font-family="Liberation Serif, serif" font-weight="bold">Current (μA)</text>
<text x="628.6" y="35.3" font-size="29.5" text-anchor="start" fill="#000" font-family="Liberation Serif, serif" font-weight="bold" >(c)</text>
<rect x="57.6" y="277.7" width="260.0" height="208.9" fill="none" stroke="#000" stroke-width="2.6"/>
<text x="81.1" y="504.0" font-size="16" text-anchor="middle" fill="#000" font-family="Liberation Serif, serif" font-weight="bold" >40</text>
<text x="140.3" y="504.0" font-size="16" text-anchor="middle" fill="#000" font-family="Liberation Serif, serif" font-weight="bold" >45</text>
<text x="199.5" y="504.0" font-size="16" text-anchor="middle" fill="#000" font-family="Liberation Serif, serif" font-weight="bold" >50</text>
<text x="258.7" y="504.0" font-size="16" text-anchor="middle" fill="#000" font-family="Liberation Serif, serif" font-weight="bold" >55</text>
<text x="317.9" y="504.0" font-size="16" text-anchor="middle" fill="#000" font-family="Liberation Serif, serif" font-weight="bold" >60</text>
<text x="52.8" y="459.5" font-size="16" text-anchor="end" fill="#000" font-family="Liberation Serif, serif" font-weight="bold" >33</text>
<text x="52.8" y="411.1" font-size="16" text-anchor="end" fill="#000" font-family="Liberation Serif, serif" font-weight="bold" >36</text>
<text x="52.8" y="362.7" font-size="16" text-anchor="end" fill="#000" font-family="Liberation Serif, serif" font-weight="bold" >39</text>
<text x="52.8" y="314.3" font-size="16" text-anchor="end" fill="#000" font-family="Liberation Serif, serif" font-weight="bold" >42</text>
<path d="M81.1 486.6 v-4.0 M140.3 486.6 v-4.0 M199.5 486.6 v-4.0 M258.7 486.6 v-4.0 M110.7 486.6 v-2.5 M169.9 486.6 v-2.5 M229.1 486.6 v-2.5 M288.3 486.6 v-2.5 M57.6 454.6 h4.0 M57.6 406.2 h4.0 M57.6 357.8 h4.0 M57.6 309.4 h4.0 M57.6 478.8 h2.5 M57.6 430.4 h2.5 M57.6 382.0 h2.5 M57.6 333.6 h2.5 M57.6 285.2 h2.5" stroke="#000" stroke-width="2" fill="none"/>
<text x="187.6" y="519.4" font-size="16" text-anchor="middle" fill="#000" font-family="Liberation Serif, serif" font-weight="bold" >Time (s)</text>
<text transform="translate(32.8 382.1) rotate(-90)" font-size="16" text-anchor="middle" font-family="Liberation Serif, serif" font-weight="bold">Current (μA)</text>
<text x="15.9" y="283.4" font-size="29.5" text-anchor="start" fill="#000" font-family="Liberation Serif, serif" font-weight="bold" >(d)</text>
<rect x="361.8" y="277.7" width="258.9" height="208.5" fill="none" stroke="#000" stroke-width="2.6"/>
<text x="361.8" y="502.6" font-size="16" text-anchor="middle" fill="#000" font-family="Liberation Serif, serif" font-weight="bold" >25</text>
<text x="418.1" y="502.6" font-size="16" text-anchor="middle" fill="#000" font-family="Liberation Serif, serif" font-weight="bold" >30</text>
<text x="474.4" y="502.6" font-size="16" text-anchor="middle" fill="#000" font-family="Liberation Serif, serif" font-weight="bold" >35</text>
<text x="530.6" y="502.6" font-size="16" text-anchor="middle" fill="#000" font-family="Liberation Serif, serif" font-weight="bold" >40</text>
<text x="587.0" y="502.6" font-size="16" text-anchor="middle" fill="#000" font-family="Liberation Serif, serif" font-weight="bold" >45</text>
<text x="356.9" y="479.7" font-size="16" text-anchor="end" fill="#000" font-family="Liberation Serif, serif" font-weight="bold" >24</text>
<text x="356.9" y="413.8" font-size="16" text-anchor="end" fill="#000" font-family="Liberation Serif, serif" font-weight="bold" >30</text>
<text x="356.9" y="347.9" font-size="16" text-anchor="end" fill="#000" font-family="Liberation Serif, serif" font-weight="bold" >36</text>
<path d="M418.1 486.2 v-4.0 M474.4 486.2 v-4.0 M530.6 486.2 v-4.0 M587.0 486.2 v-4.0 M389.9 486.2 v-2.5 M446.2 486.2 v-2.5 M502.5 486.2 v-2.5 M558.8 486.2 v-2.5 M615.1 486.2 v-2.5 M361.8 474.8 h4.0 M361.8 408.9 h4.0 M361.8 343.0 h4.0 M361.8 441.9 h2.5 M361.8 375.9 h2.5 M361.8 310.1 h2.5" stroke="#000" stroke-width="2" fill="none"/>
<text x="491.2" y="518.0" font-size="16" text-anchor="middle" fill="#000" font-family="Liberation Serif, serif" font-weight="bold" >Time (s)</text>
<text transform="translate(338.4 381.9) rotate(-90)" font-size="16" text-anchor="middle" font-family="Liberation Serif, serif" font-weight="bold">Current (μA)</text>
<text x="321.6" y="283.4" font-size="29.5" text-anchor="start" fill="#000" font-family="Liberation Serif, serif" font-weight="bold" >(e)</text>
<rect x="669.4" y="277.1" width="259.3" height="207.7" fill="none" stroke="#000" stroke-width="2.6"/>
<text x="708.0" y="502.8" font-size="16" text-anchor="middle" fill="#000" font-family="Liberation Serif, serif" font-weight="bold" >60</text>
<text x="773.0" y="502.8" font-size="16" text-anchor="middle" fill="#000" font-family="Liberation Serif, serif" font-weight="bold" >65</text>
<text x="838.0" y="502.8" font-size="16" text-anchor="middle" fill="#000" font-family="Liberation Serif, serif" font-weight="bold" >70</text>
<text x="903.0" y="502.8" font-size="16" text-anchor="middle" fill="#000" font-family="Liberation Serif, serif" font-weight="bold" >75</text>
<text x="664.6" y="490.7" font-size="16" text-anchor="end" fill="#000" font-family="Liberation Serif, serif" font-weight="bold" >20</text>
<text x="664.6" y="433.0" font-size="16" text-anchor="end" fill="#000" font-family="Liberation Serif, serif" font-weight="bold" >25</text>
<text x="664.6" y="375.3" font-size="16" text-anchor="end" fill="#000" font-family="Liberation Serif, serif" font-weight="bold" >30</text>
<text x="664.6" y="317.6" font-size="16" text-anchor="end" fill="#000" font-family="Liberation Serif, serif" font-weight="bold" >35</text>
<path d="M708.0 484.8 v-4.0 M773.0 484.8 v-4.0 M838.0 484.8 v-4.0 M903.0 484.8 v-4.0 M675.5 484.8 v-2.5 M740.5 484.8 v-2.5 M805.5 484.8 v-2.5 M870.5 484.8 v-2.5 M669.4 428.1 h4.0 M669.4 370.4 h4.0 M669.4 312.7 h4.0 M669.4 457.0 h2.5 M669.4 399.2 h2.5 M669.4 341.6 h2.5 M669.4 283.9 h2.5" stroke="#000" stroke-width="2" fill="none"/>
<text x="799.0" y="516.6" font-size="16" text-anchor="middle" fill="#000" font-family="Liberation Serif, serif" font-weight="bold" >Time (s)</text>
<text transform="translate(646.1 381.0) rotate(-90)" font-size="16" text-anchor="middle" font-family="Liberation Serif, serif" font-weight="bold">Current (μA)</text>
<text x="628.6" y="283.4" font-size="29.5" text-anchor="start" fill="#000" font-family="Liberation Serif, serif" font-weight="bold" >(f)</text>
<rect x="58.4" y="528.8" width="260.0" height="208.7" fill="none" stroke="#000" stroke-width="2.6"/>
<text x="58.4" y="754.9" font-size="16" text-anchor="middle" fill="#000" font-family="Liberation Serif, serif" font-weight="bold" >0</text>
<text x="116.3" y="754.9" font-size="16" text-anchor="middle" fill="#000" font-family="Liberation Serif, serif" font-weight="bold" >20</text>
<text x="174.2" y="754.9" font-size="16" text-anchor="middle" fill="#000" font-family="Liberation Serif, serif" font-weight="bold" >40</text>
<text x="232.1" y="754.9" font-size="16" text-anchor="middle" fill="#000" font-family="Liberation Serif, serif" font-weight="bold" >60</text>
<text x="290.0" y="754.9" font-size="16" text-anchor="middle" fill="#000" font-family="Liberation Serif, serif" font-weight="bold" >80</text>
<text x="53.6" y="741.6" font-size="16" text-anchor="end" fill="#000" font-family="Liberation Serif, serif" font-weight="bold" >32</text>
<text x="53.6" y="682.1" font-size="16" text-anchor="end" fill="#000" font-family="Liberation Serif, serif" font-weight="bold" >36</text>
<text x="53.6" y="622.6" font-size="16" text-anchor="end" fill="#000" font-family="Liberation Serif, serif" font-weight="bold" >40</text>
<text x="53.6" y="563.1" font-size="16" text-anchor="end" fill="#000" font-family="Liberation Serif, serif" font-weight="bold" >44</text>
<path d="M116.3 737.5 v-4.0 M174.2 737.5 v-4.0 M232.1 737.5 v-4.0 M290.0 737.5 v-4.0 M87.3 737.5 v-2.5 M145.2 737.5 v-2.5 M203.2 737.5 v-2.5 M261.1 737.5 v-2.5 M58.4 677.2 h4.0 M58.4 617.7 h4.0 M58.4 558.2 h4.0 M58.4 707.0 h2.5 M58.4 647.5 h2.5 M58.4 588.0 h2.5" stroke="#000" stroke-width="2" fill="none"/>
<text x="188.4" y="770.3" font-size="16" text-anchor="middle" fill="#000" font-family="Liberation Serif, serif" font-weight="bold" >Time (s)</text>
<text transform="translate(33.6 633.1) rotate(-90)" font-size="16" text-anchor="middle" font-family="Liberation Serif, serif" font-weight="bold">Current (μA)</text>
<text x="15.9" y="534.8" font-size="29.5" text-anchor="start" fill="#000" font-family="Liberation Serif, serif" font-weight="bold" >(g)</text>
<rect x="362.7" y="527.3" width="260.0" height="208.7" fill="none" stroke="#000" stroke-width="2.6"/>
<text x="362.7" y="753.4" font-size="16" text-anchor="middle" fill="#000" font-family="Liberation Serif, serif" font-weight="bold" >0</text>
<text x="420.7" y="753.4" font-size="16" text-anchor="middle" fill="#000" font-family="Liberation Serif, serif" font-weight="bold" >20</text>
<text x="478.7" y="753.4" font-size="16" text-anchor="middle" fill="#000" font-family="Liberation Serif, serif" font-weight="bold" >40</text>
<text x="536.7" y="753.4" font-size="16" text-anchor="middle" fill="#000" font-family="Liberation Serif, serif" font-weight="bold" >60</text>
<text x="594.7" y="753.4" font-size="16" text-anchor="middle" fill="#000" font-family="Liberation Serif, serif" font-weight="bold" >80</text>
<text x="357.9" y="718.1" font-size="16" text-anchor="end" fill="#000" font-family="Liberation Serif, serif" font-weight="bold" >28</text>
<text x="357.9" y="671.7" font-size="16" text-anchor="end" fill="#000" font-family="Liberation Serif, serif" font-weight="bold" >32</text>
<text x="357.9" y="625.3" font-size="16" text-anchor="end" fill="#000" font-family="Liberation Serif, serif" font-weight="bold" >36</text>
<text x="357.9" y="578.9" font-size="16" text-anchor="end" fill="#000" font-family="Liberation Serif, serif" font-weight="bold" >40</text>
<path d="M420.7 736.0 v-4.0 M478.7 736.0 v-4.0 M536.7 736.0 v-4.0 M594.7 736.0 v-4.0 M391.7 736.0 v-2.5 M449.7 736.0 v-2.5 M507.7 736.0 v-2.5 M565.7 736.0 v-2.5 M362.7 713.2 h4.0 M362.7 666.8 h4.0 M362.7 620.4 h4.0 M362.7 574.0 h4.0 M362.7 690.0 h2.5 M362.7 643.6 h2.5 M362.7 597.2 h2.5 M362.7 550.8 h2.5" stroke="#000" stroke-width="2" fill="none"/>
<text x="492.7" y="768.8" font-size="16" text-anchor="middle" fill="#000" font-family="Liberation Serif, serif" font-weight="bold" >Time (s)</text>
<text transform="translate(339.4 631.6) rotate(-90)" font-size="16" text-anchor="middle" font-family="Liberation Serif, serif" font-weight="bold">Current (μA)</text>
<text x="321.6" y="534.8" font-size="29.5" text-anchor="start" fill="#000" font-family="Liberation Serif, serif" font-weight="bold" >(h)</text>
<rect x="669.9" y="523.9" width="259.8" height="208.5" fill="none" stroke="#000" stroke-width="2.6"/>
<text x="670.7" y="749.4" font-size="16" text-anchor="middle" fill="#000" font-family="Liberation Serif, serif" font-weight="bold" >0</text>
<text x="728.3" y="749.4" font-size="16" text-anchor="middle" fill="#000" font-family="Liberation Serif, serif" font-weight="bold" >20</text>
<text x="785.9" y="749.4" font-size="16" text-anchor="middle" fill="#000" font-family="Liberation Serif, serif" font-weight="bold" >40</text>
<text x="843.5" y="749.4" font-size="16" text-anchor="middle" fill="#000" font-family="Liberation Serif, serif" font-weight="bold" >60</text>
<text x="901.1" y="749.4" font-size="16" text-anchor="middle" fill="#000" font-family="Liberation Serif, serif" font-weight="bold" >80</text>
<text x="665.1" y="726.1" font-size="16" text-anchor="end" fill="#000" font-family="Liberation Serif, serif" font-weight="bold" >24</text>
<text x="665.1" y="676.7" font-size="16" text-anchor="end" fill="#000" font-family="Liberation Serif, serif" font-weight="bold" >28</text>
<text x="665.1" y="627.3" font-size="16" text-anchor="end" fill="#000" font-family="Liberation Serif, serif" font-weight="bold" >32</text>
<text x="665.1" y="577.9" font-size="16" text-anchor="end" fill="#000" font-family="Liberation Serif, serif" font-weight="bold" >36</text>
<path d="M728.3 732.4 v-4.0 M785.9 732.4 v-4.0 M843.5 732.4 v-4.0 M901.1 732.4 v-4.0 M699.5 732.4 v-2.5 M757.1 732.4 v-2.5 M814.7 732.4 v-2.5 M872.3 732.4 v-2.5 M669.9 721.2 h4.0 M669.9 671.8 h4.0 M669.9 622.4 h4.0 M669.9 573.0 h4.0 M669.9 696.5 h2.5 M669.9 647.1 h2.5 M669.9 597.7 h2.5 M669.9 548.3 h2.5" stroke="#000" stroke-width="2" fill="none"/>
<text x="799.8" y="766.0" font-size="16" text-anchor="middle" fill="#000" font-family="Liberation Serif, serif" font-weight="bold" >Time (s)</text>
<text transform="translate(646.6 628.1) rotate(-90)" font-size="16" text-anchor="middle" font-family="Liberation Serif, serif" font-weight="bold">Current (μA)</text>
<text x="628.6" y="534.8" font-size="29.5" text-anchor="start" fill="#000" font-family="Liberation Serif, serif" font-weight="bold" >(i)</text>
<text x="62.3" y="217.7" font-size="17.5" text-anchor="start" fill="#000" font-family="Liberation Serif, serif" font-weight="bold" >90°</text>
<text x="97.5" y="186.6" font-size="17.5" text-anchor="start" fill="#000" font-family="Liberation Serif, serif" font-weight="bold" >60°</text>
<text x="131.3" y="147.6" font-size="17.5" text-anchor="start" fill="#000" font-family="Liberation Serif, serif" font-weight="bold" >30°</text>
<text x="178.8" y="81.0" font-size="17.5" text-anchor="start" fill="#000" font-family="Liberation Serif, serif" font-weight="bold" >0°</text>
<text x="218.0" y="141.0" font-size="17.5" text-anchor="start" fill="#000" font-family="Liberation Serif, serif" font-weight="bold" >30°</text>
<text x="253.1" y="186.6" font-size="17.5" text-anchor="start" fill="#000" font-family="Liberation Serif, serif" font-weight="bold" >60°</text>
<text x="288.4" y="219.6" font-size="17.5" text-anchor="start" fill="#000" font-family="Liberation Serif, serif" font-weight="bold" >90°</text>
<text x="85.0" y="81.0" font-size="22" text-anchor="start" fill="#d21f26" font-family="Liberation Serif, serif" font-weight="bold" >0°</text>
<text x="142.5" y="81.0" font-size="22" text-anchor="start" fill="#d21f26" font-family="Liberation Serif, serif" font-weight="bold" >30°</text>
<text x="209.0" y="81.0" font-size="22" text-anchor="start" fill="#d21f26" font-family="Liberation Serif, serif" font-weight="bold" >60°</text>
<text x="272.2" y="81.0" font-size="22" text-anchor="start" fill="#d21f26" font-family="Liberation Serif, serif" font-weight="bold" >90°</text>
<text x="902.2" y="59.7" font-size="44" text-anchor="middle" fill="#000" font-family="Liberation Serif, serif" font-weight="bold" >N</text>
<text x="296.0" y="564.8" font-size="44" text-anchor="middle" fill="#000" font-family="Liberation Serif, serif" font-weight="bold" >J</text>
<text x="598.6" y="564.8" font-size="44" text-anchor="middle" fill="#000" font-family="Liberation Serif, serif" font-weight="bold" >F</text>
<text x="901.8" y="564.2" font-size="44" text-anchor="middle" fill="#000" font-family="Liberation Serif, serif" font-weight="bold" >U</text>
<rect x="740" y="766.2" width="120" height="12" fill="#fff"/>
</svg>
</body></html>
